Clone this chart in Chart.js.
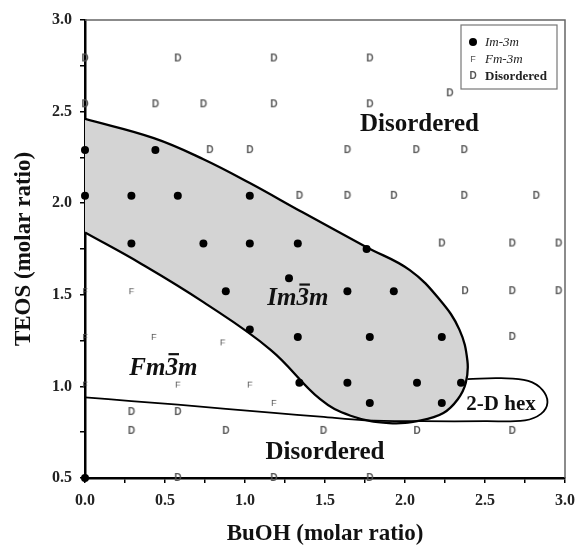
<!DOCTYPE html>
<html><head><meta charset="utf-8">
<script src="https://cdn.jsdelivr.net/npm/chart.js@4.4.0/dist/chart.umd.min.js"></script>
<style>html,body{margin:0;padding:0;background:#fff}</style>
</head><body>
<canvas id="c" width="577" height="547"></canvas>
<script>
// ---- tick labels ----
const xTickValues = [0, 0.5, 1, 1.5, 2, 2.5, 3];
const xTickLabels = ['0.0', '0.5', '1.0', '1.5', '2.0', '2.5', '3.0'];
const yTickValues = [0.5, 1, 1.5, 2, 2.5, 3];
const yTickLabels = ['0.5', '1.0', '1.5', '2.0', '2.5', '3.0'];

// ---- series: Im-3m (filled circles) ----
const imX = [0, 0.44, 0, 0.29, 0.58, 1.03, 0.29, 0.74, 1.03, 1.33, 1.76, 1.275, 0.88, 1.64, 1.93, 1.03, 1.33, 1.78, 2.23, 1.34, 1.64, 2.075, 2.35, 1.78, 2.23, 0];
const imY = [2.29, 2.29, 2.04, 2.04, 2.04, 2.04, 1.78, 1.78, 1.78, 1.78, 1.75, 1.59, 1.52, 1.52, 1.52, 1.31, 1.27, 1.27, 1.27, 1.02, 1.02, 1.02, 1.02, 0.91, 0.91, 0.5];

// ---- series: Fm-3m ("F") ----
const fmX = [0, 0.29, 0, 0.43, 0.86, 0, 0.58, 1.03, 1.18];
const fmY = [1.52, 1.52, 1.27, 1.27, 1.24, 1.01, 1.01, 1.01, 0.91];

// ---- series: Disordered ("D") ----
const disX = [0, 0.58, 1.18, 1.78, 0, 0.44, 0.74, 1.18, 1.78, 2.28, 0.78, 1.03, 1.64, 2.07, 2.37, 1.34, 1.64, 1.93, 2.37, 2.82, 2.23, 2.67, 2.96, 2.375, 2.67, 2.96, 2.67, 0.29, 0.58, 0.29, 0.88, 1.49, 2.075, 2.67, 0.58, 1.18, 1.78];
const disY = [2.79, 2.79, 2.79, 2.79, 2.54, 2.54, 2.54, 2.54, 2.54, 2.60, 2.29, 2.29, 2.29, 2.29, 2.29, 2.04, 2.04, 2.04, 2.04, 2.04, 1.78, 1.78, 1.78, 1.52, 1.52, 1.52, 1.27, 0.86, 0.86, 0.757, 0.757, 0.757, 0.757, 0.757, 0.5, 0.5, 0.5];

// ---- phase boundaries ----
const imRegionX = [0, 0.43, 0.74, 1.03, 1.36, 1.76, 2.03, 2.22, 2.34, 2.39, 2.38, 2.33, 2.24, 2.1, 1.9, 1.66, 1.47, 1.16, 0.74, 0.35, 0];
const imRegionY = [2.46, 2.355, 2.24, 2.11, 1.95, 1.76, 1.635, 1.47, 1.31, 1.14, 1.02, 0.93, 0.855, 0.815, 0.80, 0.84, 0.93, 1.2, 1.46, 1.67, 1.84];
const lowerLineX = [0, 0.29, 0.58, 1.18, 1.47, 1.75, 2.1, 2.5, 2.75, 2.85, 2.89, 2.86, 2.77, 2.6, 2.39];
const lowerLineY = [0.94, 0.92, 0.90, 0.855, 0.835, 0.815, 0.81, 0.81, 0.815, 0.85, 0.91, 0.98, 1.03, 1.045, 1.04];

// ---- legend / annotations ----
const legendLabels = ['Im-3m', 'Fm-3m', 'Disordered'];
const regionLabels = [
  {text: 'Disordered', x: 2.09, y: 2.43, font: 'bold 25px "Liberation Serif"'},
  {text: 'Im3m', bar: 2, x: 1.33, y: 1.48, font: 'bold italic 25px "Liberation Serif"'},
  {text: 'Fm3m', bar: 2, x: 0.49, y: 1.10, font: 'bold italic 25px "Liberation Serif"'},
  {text: '2-D hex', x: 2.6, y: 0.9, font: 'bold 21px "Liberation Serif"'},
  {text: 'Disordered', x: 1.5, y: 0.64, font: 'bold 25px "Liberation Serif"'}
];

function pts(xs, ys) { return xs.map((x, i) => ({x: x, y: ys[i]})); }

function textMarker(ch, font, color, w, h) {
  const c = document.createElement('canvas');
  c.width = w; c.height = h;
  const g = c.getContext('2d');
  g.font = font; g.fillStyle = color;
  g.textAlign = 'center'; g.textBaseline = 'middle';
  g.fillText(ch, w / 2, h / 2 + 0.5);
  return c;
}
const dMarker = textMarker('D', 'bold 10px "Liberation Sans"', '#555', 12, 12);
const fMarker = textMarker('F', '9px "Liberation Sans"', '#555', 10, 12);

const framePlugin = {
  id: 'frame',
  afterDatasetsDraw(chart) {
    const {ctx, chartArea: a, scales} = chart;
    const sx = scales.x, sy = scales.y;
    ctx.save();
    // region labels
    ctx.fillStyle = '#111';
    ctx.textAlign = 'center';
    ctx.textBaseline = 'middle';
    regionLabels.forEach(l => {
      ctx.font = l.font;
      const px = sx.getPixelForValue(l.x), py = sy.getPixelForValue(l.y);
      ctx.fillText(l.text, px, py);
      if (l.bar !== undefined) {
        const w = ctx.measureText(l.text).width;
        const x0 = px - w / 2 + ctx.measureText(l.text.slice(0, l.bar)).width;
        const x1 = px - w / 2 + ctx.measureText(l.text.slice(0, l.bar + 1)).width;
        ctx.fillRect(x0 + 3, py - 15, x1 - x0 - 2, 2.2);
      }
    });
    // top/right frame
    ctx.strokeStyle = '#666';
    ctx.lineWidth = 1.5;
    ctx.beginPath();
    ctx.moveTo(a.left, a.top); ctx.lineTo(a.right, a.top); ctx.lineTo(a.right, a.bottom);
    ctx.stroke();
    // legend
    const bx = a.right - 104, by = a.top + 5, bw = 96, bh = 64;
    ctx.fillStyle = '#fff';
    ctx.fillRect(bx, by, bw, bh);
    ctx.strokeStyle = '#777';
    ctx.lineWidth = 1.2;
    ctx.strokeRect(bx, by, bw, bh);
    const rows = [by + 17, by + 34, by + 51];
    ctx.textAlign = 'left';
    ctx.fillStyle = '#000';
    ctx.beginPath(); ctx.arc(bx + 12, rows[0], 4, 0, Math.PI * 2); ctx.fill();
    ctx.drawImage(fMarker, bx + 12 - fMarker.width / 2, rows[1] - fMarker.height / 2);
    ctx.drawImage(dMarker, bx + 12 - dMarker.width / 2, rows[2] - dMarker.height / 2);
    ctx.fillStyle = '#222';
    ctx.font = 'italic 13px "Liberation Serif"';
    ctx.fillText(legendLabels[0], bx + 24, rows[0] + 1);
    ctx.fillText(legendLabels[1], bx + 24, rows[1] + 1);
    ctx.font = 'bold 13px "Liberation Serif"';
    ctx.fillText(legendLabels[2], bx + 24, rows[2] + 1);
    ctx.restore();
  }
};

function tickCb(values, labels) {
  return function (v) {
    const i = values.findIndex(t => Math.abs(t - v) < 1e-6);
    return i >= 0 ? labels[i] : '';
  };
}

const tickFont = {family: '"Liberation Serif"', size: 16, weight: 'bold'};
const titleFont = {family: '"Liberation Serif"', size: 23, weight: 'bold'};

new Chart(document.getElementById('c'), {
  type: 'scatter',
  data: {
    datasets: [
      {label: 'Im-3m', data: pts(imX, imY), pointStyle: 'circle', pointRadius: 4, backgroundColor: '#000', borderColor: '#000', borderWidth: 0, order: 0, clip: false},
      {label: 'Fm-3m', data: pts(fmX, fmY), pointStyle: fMarker, pointRadius: 5, order: 0, clip: false},
      {label: 'Disordered', data: pts(disX, disY), pointStyle: dMarker, pointRadius: 6, order: 0, clip: false},
      {label: 'Im3m region', data: pts(imRegionX, imRegionY), showLine: true, tension: 0.4, pointRadius: 0, borderColor: '#000', borderWidth: 2.3, backgroundColor: '#d4d4d4', fill: 'shape', order: 10},
      {label: 'lower boundary', data: pts(lowerLineX, lowerLineY), showLine: true, tension: 0.4, pointRadius: 0, borderColor: '#000', borderWidth: 1.8, fill: false, order: 9}
    ]
  },
  options: {
    responsive: false,
    animation: false,
    devicePixelRatio: 1,
    layout: {padding: {top: 20, right: 12, left: 0, bottom: 0}},
    plugins: {legend: {display: false}, tooltip: {enabled: false}},
    scales: {
      x: {
        type: 'linear', min: 0, max: 3,
        afterFit(s) { s.height = 69; s.paddingLeft = 0; s.paddingRight = 0; },
        ticks: {stepSize: 0.25, autoSkip: false, maxRotation: 0, padding: 8, color: '#222', font: tickFont, callback: tickCb(xTickValues, xTickLabels)},
        grid: {drawOnChartArea: false, drawTicks: true, tickLength: 5, color: '#000', lineWidth: 1.5},
        border: {display: true, width: 2.5, color: '#000'},
        title: {display: true, text: 'BuOH (molar ratio)', color: '#111', font: titleFont, padding: {top: 0, bottom: -1}}
      },
      y: {
        type: 'linear', min: 0.5, max: 3,
        afterFit(s) { s.width = 85; s.paddingTop = 0; s.paddingBottom = 0; },
        ticks: {stepSize: 0.25, autoSkip: false, padding: 8, color: '#222', font: tickFont, callback: tickCb(yTickValues, yTickLabels)},
        grid: {drawOnChartArea: false, drawTicks: true, tickLength: 5, color: '#000', lineWidth: 1.5},
        border: {display: true, width: 2.5, color: '#000'},
        title: {display: true, text: 'TEOS (molar ratio)', color: '#111', font: titleFont, padding: {top: 10, bottom: 0}}
      }
    }
  },
  plugins: [framePlugin]
});
</script>
</body></html>
